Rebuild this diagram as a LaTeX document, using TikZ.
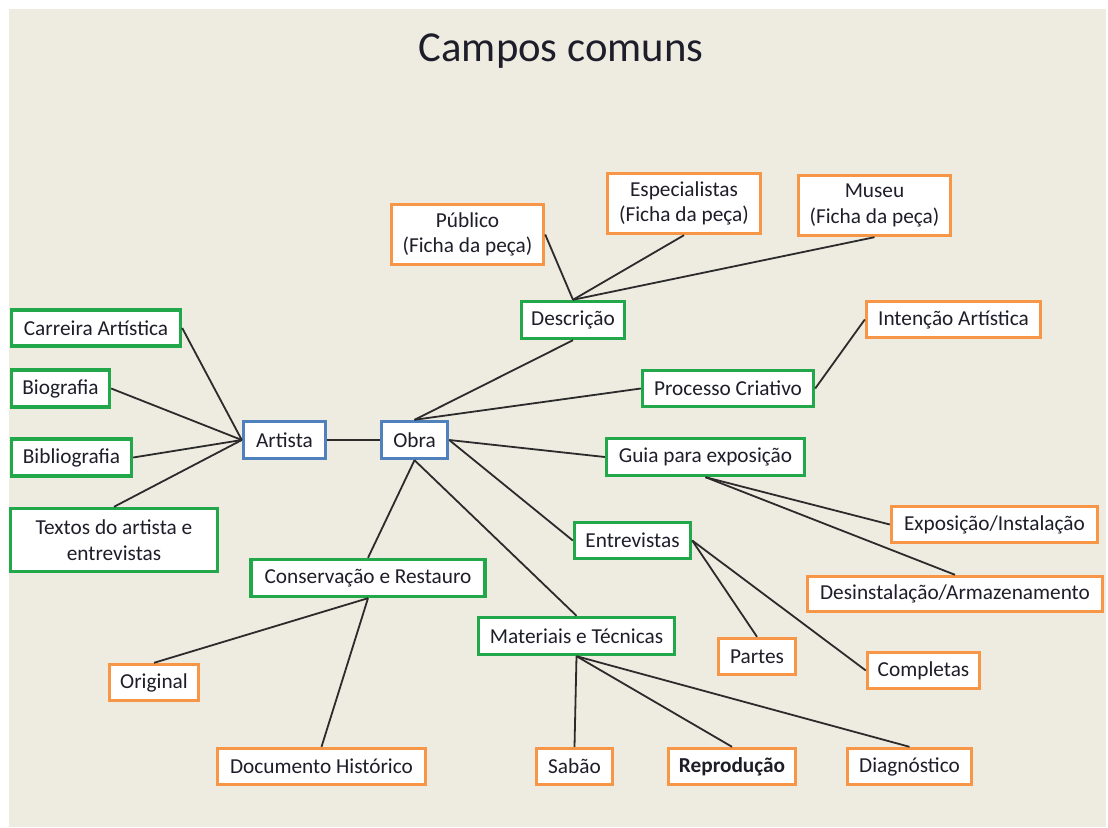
\documentclass[tikz,border=0pt]{standalone}
\usepackage{fontspec}
\setmainfont{Carlito}
\begin{document}
\begin{tikzpicture}[x=1pt,y=-1pt,
  every node/.style={font=\fontsize{21.3}{25.5}\selectfont, text=txt},
  boxbase/.style={draw, fill=white, line width=3.4pt, inner sep=0pt, align=center},
  gbox/.style={boxbase, draw=grn},
  obox/.style={boxbase, draw=org},
  bbox/.style={boxbase, draw=blu},
  link/.style={draw=lnk, line width=1.8pt}]
\definecolor{bg}{HTML}{EEEBE1}
\definecolor{grn}{HTML}{22A84A}
\definecolor{org}{HTML}{F79646}
\definecolor{blu}{HTML}{4F81BD}
\definecolor{lnk}{HTML}{2B2B2B}
\definecolor{txt}{HTML}{1E1E2A}

% page and slide background
\fill[white] (0,0) rectangle (1108,827);
\fill[bg] (9,9) rectangle (1106,827);
\useasboundingbox (0,0) rectangle (1108,827);

\node[font=\fontsize{42.7}{50}\selectfont] (title) at (561,51) {Campos comuns};

% central nodes
\node[bbox, minimum width=82, minimum height=37] (art) at (284.5,440) {Artista};
\node[bbox, minimum width=66, minimum height=37] (obra) at (414.5,440) {Obra};

% artist branch
\node[gbox, minimum width=169, minimum height=36] (carr) at (96,328) {Carreira Artística};
\node[gbox, minimum width=98, minimum height=37] (bio) at (60.5,388.5) {Biografia};
\node[gbox, minimum width=120, minimum height=37] (bibl) at (71.5,457.5) {Bibliografia};
\node[gbox, minimum width=207, minimum height=63] (txts) at (114,540) {Textos do artista e\\entrevistas};

% work branch
\node[gbox, minimum width=103, minimum height=37] (desc) at (573,320) {Descrição};
\node[obox, minimum width=152, minimum height=60] (pub) at (467.5,234.5) {Público\\(Ficha da peça)};
\node[obox, minimum width=153, minimum height=60] (esp) at (684,203.5) {Especialistas\\(Ficha da peça)};
\node[obox, minimum width=152, minimum height=60] (mus) at (874.5,205.5) {Museu\\(Ficha da peça)};

\node[gbox, minimum width=171, minimum height=36] (proc) at (728,388.5) {Processo Criativo};
\node[obox, minimum width=174, minimum height=36] (inten) at (953.5,319.5) {Intenção Artística};

\node[gbox, minimum width=198, minimum height=37] (guia) at (705.5,457) {Guia para exposição};
\node[obox, minimum width=206, minimum height=36] (expo) at (994.5,524.5) {Exposição/Instalação};
\node[obox, minimum width=295, minimum height=35] (desi) at (955,594) {Desinstalação/Armazenamento};

\node[gbox, minimum width=116, minimum height=36] (entr) at (632.5,540.5) {Entrevistas};
\node[obox, minimum width=77, minimum height=36] (part) at (757,656.5) {Partes};
\node[obox, minimum width=112, minimum height=36] (comp) at (923.5,670.5) {Completas};

\node[gbox, minimum width=234, minimum height=37] (cons) at (368,578) {Conservação e Restauro};
\node[obox, minimum width=89, minimum height=36] (orig) at (154,682.5) {Original};
\node[obox, minimum width=208, minimum height=36] (docu) at (321.5,766.5) {Documento Histórico};

\node[gbox, minimum width=196, minimum height=37] (mat) at (576.5,636) {Materiais e Técnicas};
\node[obox, minimum width=76, minimum height=36] (sab) at (574.5,766.5) {Sabão};
\node[obox, minimum width=127, minimum height=36, font=\fontsize{21.3}{25.5}\selectfont\bfseries] (repr) at (732,766.5) {Reprodução};
\node[obox, minimum width=124, minimum height=36] (diag) at (909.5,766.5) {Diagnóstico};

% connectors
\path[link] (carr.east) -- (art.west);
\path[link] (bio.east) -- (art.west);
\path[link] (bibl.east) -- (art.west);
\path[link] (txts.north) -- (art.west);
\path[link] (art.east) -- (obra.west);

\path[link] (obra.north) -- (desc.south);
\path[link] (obra.north) -- (proc.west);
\path[link] (obra.east) -- (guia.west);
\path[link] (obra.east) -- (entr.west);
\path[link] (obra.south) -- (cons.north);
\path[link] (obra.south) -- (mat.north);

\path[link] (pub.east) -- (desc.north);
\path[link] (esp.south) -- (desc.north);
\path[link] (mus.south) -- (desc.north);

\path[link] (proc.east) -- (inten.west);

\path[link] (guia.south) -- (expo.west);
\path[link] (guia.south) -- (desi.north);

\path[link] (entr.east) -- (part.north);
\path[link] (entr.east) -- (comp.west);

\path[link] (cons.south) -- (orig.north);
\path[link] (cons.south) -- (docu.north);

\path[link] (mat.south) -- (sab.north);
\path[link] (mat.south) -- (repr.north);
\path[link] (mat.south) -- (diag.north);
\end{tikzpicture}
\end{document}
